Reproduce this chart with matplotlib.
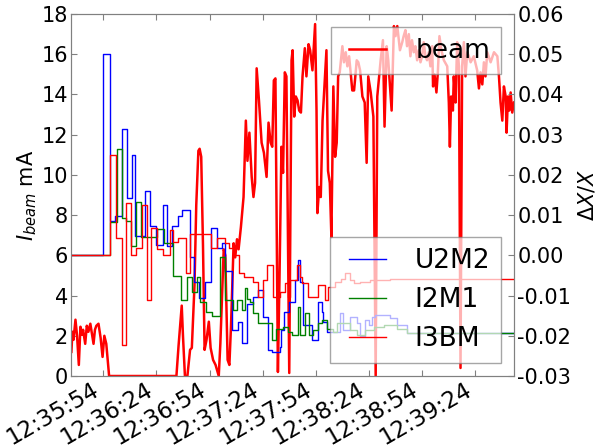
import numpy as np
import pandas as pd
import matplotlib
matplotlib.use("Agg")
import matplotlib.pyplot as plt
import matplotlib.dates as mdates
from matplotlib.ticker import MultipleLocator, FormatStrFormatter

start = pd.Timestamp("2016-01-01 12:35:36")

# beam current (mA), seconds after start
beam_t = [0, 0.6, 1.2, 2.3, 3.2, 4.2, 5.1, 5.9, 6.6, 7.8,
          8.7, 9.6, 10.7, 11.6, 12.5, 13.3, 14.1, 15.3, 16.5, 17.6,
          18.6, 19.7, 21.3, 59.3, 60.5, 62.3, 63.0, 64.1, 65.5, 67.0,
          68.0, 69.5, 70.5, 71.7, 72.4, 73.3, 74.3, 75.2, 76.3, 77.6,
          78.6, 80.0, 81.4, 83.2, 84.1, 86.0, 86.9, 88.2, 89.2, 90.1,
          91.6, 92.5, 93.5, 94.4, 95.7, 97.2, 98.5, 99.4, 100.5, 101.8,
          102.8, 103.7, 104.6, 105.9, 107.4, 108.7, 110.2, 111.3, 112.5, 113.4,
          114.3, 115.2, 116.6, 117.5, 118.6, 119.5, 120.5, 121.4, 123.0, 124.3,
          124.9, 125.8, 126.7, 127.7, 128.6, 129.6, 130.5, 131.8, 132.7, 133.9,
          134.8, 136.1, 137.6, 138.4, 138.9, 139.9, 140.8, 141.8, 144.0, 144.9,
          145.9, 146.8, 147.9, 148.9, 149.8, 150.6, 151.5, 153.0, 153.9, 154.9,
          155.8, 156.8, 158.6, 159.6, 161.1, 162.0, 163.0, 164.3, 165.6, 166.7,
          167.6, 169.0, 170.5, 171.8, 172.7, 174.6, 175.9, 176.8, 178.0, 178.9,
          180.8, 182.1, 183.0, 184.0, 185.5, 186.8, 187.6, 188.6, 189.5, 190.5,
          191.4, 192.3, 193.3, 194.2, 195.2, 196.1, 197.1, 198.0, 198.9, 199.9,
          200.8, 201.8, 202.7, 203.7, 204.2, 205.0, 206.1, 206.9, 207.8, 208.9,
          210.3, 212.2, 213.1, 213.7, 214.4, 215.4, 215.9, 216.9, 217.8, 218.8,
          219.7, 220.6, 221.6, 222.5, 223.5, 224.4, 225.4, 227.2, 229.1, 230.1,
          231.0, 232.0, 232.9, 233.8, 234.8, 236.7, 238.6, 240.5, 241.4, 242.3,
          243.3, 244.2, 245.2, 245.7, 246.5, 247.2, 248.0, 248.9, 249.9]
beam_mA = [1.2, 2.2, 1.8, 2.8, 2.0, 0.55, 2.45, 2.05, 2.3, 1.6,
           2.5, 2.2, 2.6, 2.1, 1.6, 2.3, 2.5, 2.6, 1.9, 0.95,
           2.0, 1.6, 0.0, 0.0, 1.5, 3.5, 2.0, 0.0, 0.0, 1.3,
           1.4, 4.5, 8.5, 11.2, 11.3, 10.9, 6.5, 1.3, 1.8, 2.7,
           1.4, 0.8, 0.55, 0.0, 1.6, 6.3, 6.0, 0.8, 0.55, 2.45,
           6.6, 5.9, 6.8, 6.3, 7.4, 8.9, 12.7, 10.7, 12.1, 9.9,
           8.9, 9.6, 15.3, 13.7, 11.6, 11.1, 9.9, 12.6, 11.6, 11.4,
           14.7, 14.8, 0.2, 4.9, 11.4, 10.1, 15.1, 14.9, 0.15, 15.7,
           16.2, 12.9, 13.9, 13.7, 13.2, 13.1, 14.9, 16.3, 14.9, 16.5,
           16.2, 15.2, 17.5, 13.2, 8.1, 9.4, 8.9, 12.7, 16.2, 10.2,
           9.6, 6.9, 14.4, 10.9, 11.6, 14.9, 15.1, 16.4, 15.6, 16.1,
           15.4, 15.9, 14.2, 14.2, 15.7, 15.6, 15.2, 13.9, 13.6, 10.6,
           14.9, 14.1, 12.9, 0.0, 13.9, 15.7, 16.7, 12.4, 16.4, 15.7,
           13.2, 17.4, 16.9, 17.4, 16.2, 16.6, 16.9, 17.2, 16.4, 17.0,
           15.9, 16.7, 16.1, 16.4, 15.7, 16.2, 15.6, 15.9, 16.6, 15.9,
           15.7, 16.1, 15.4, 16.4, 14.4, 15.0, 14.1, 15.1, 16.9, 16.2,
           15.7, 15.4, 13.6, 11.4, 13.9, 13.2, 14.9, 13.6, 16.6, 15.4,
           0.4, 15.4, 16.6, 14.9, 16.1, 15.9, 15.6, 15.9, 15.2, 14.3,
           15.1, 14.5, 15.6, 14.9, 16.1, 15.6, 16.1, 15.9, 14.9, 13.6,
           12.7, 14.4, 13.9, 12.1, 13.9, 13.2, 14.1, 13.1, 13.6]

# relative changes dX/X (value held until next change)
u2m2_t = [0, 18.0, 21.7, 24.5, 28.3, 31.2, 34.5, 36.0, 41.7, 44.5,
          47.5, 51.6, 54.0, 57.0, 60.0, 62.5, 67.0, 69.0, 72.0, 75.5,
          78.8, 82.0, 84.8, 87.0, 90.5, 94.2, 96.5, 99.0, 102.7, 105.5,
          108.3, 111.2, 113.1, 117.7, 118.6, 120.0, 122.6, 126.2, 128.2, 129.0,
          130.9, 135.6, 139.4, 141.3, 142.2, 144.1, 151.7, 153.6, 157.4, 161.2,
          163.1, 165.9, 167.8, 169.7, 171.6, 180.1, 183.8, 189.4]
u2m2 = [0.0, 0.05, 0.0085, 0.0098, 0.0315, 0.0142, 0.025, 0.0049, 0.0159, 0.0072,
        0.0025, 0.0125, 0.0022, 0.0073, 0.0098, 0.0112, -0.0003, -0.0066, -0.0105, -0.0066,
        0.0068, 0.0018, 0.003, -0.004, -0.0185, -0.0165, -0.0219, -0.012, -0.0103, -0.0086,
        -0.0153, -0.0236, -0.024, -0.0227, -0.0186, -0.014, -0.0116, -0.0062, -0.0012, -0.0066,
        -0.0173, -0.0211, -0.0116, -0.014, -0.0165, -0.019, -0.0144, -0.0186, -0.0153, -0.0169,
        -0.02, -0.0161, -0.0173, -0.0153, -0.0148, -0.0157, -0.0173, -0.0194]

i2m1_t = [0, 21.7, 25.6, 28.5, 30.6, 33.9, 36.5, 39.4, 48.5, 52.5,
          57.5, 62.0, 65.0, 68.3, 71.0, 72.6, 76.0, 79.2, 84.0, 86.7,
          91.0, 93.5, 96.5, 98.0, 99.3, 100.8, 102.7, 105.5, 113.1, 115.5,
          119.6, 122.4, 124.3, 128.1, 129.0, 131.8, 134.3, 136.5, 139.4, 141.3,
          144.1, 147.9, 149.8, 157.4, 161.2, 165.9, 170.7, 176.3, 183.8, 189.4]
i2m1 = [0.0, 0.0084, 0.0264, 0.0092, 0.0085, 0.0022, 0.0132, 0.0045, 0.0065, 0.003,
        -0.0052, -0.0111, -0.0053, -0.009, -0.0055, -0.0115, -0.014, -0.015, -0.0005, -0.011,
        -0.0135, -0.011, -0.0135, -0.008, -0.0108, -0.0116, -0.0144, -0.0169, -0.0211, -0.0182,
        -0.0178, -0.019, -0.0198, -0.0128, -0.0198, -0.0144, -0.0198, -0.0186, -0.0169, -0.0161,
        -0.0182, -0.019, -0.0169, -0.0186, -0.0198, -0.0186, -0.0178, -0.0173, -0.0182, -0.0194]

i3bm_t = [0, 21.7, 25.2, 28.4, 30.8, 33.5, 36.5, 39.6, 42.5, 45.0,
          48.2, 51.7, 55.4, 57.3, 60.0, 64.6, 67.2, 79.0, 82.0, 86.5,
          89.0, 92.0, 94.4, 97.2, 102.7, 105.5, 108.3, 110.2, 114.0, 117.7,
          120.6, 122.4, 123.4, 127.1, 129.0, 130.0, 133.7, 139.4, 143.2, 145.1,
          148.9, 152.5, 154.6, 157.4, 159.3, 163.1, 168.8, 180.1]
i3bm = [0.0, 0.025, 0.0043, -0.0223, 0.013, 0.0, 0.0018, 0.0125, -0.0111, 0.0068,
        0.0015, 0.0, 0.0063, 0.0032, 0.0043, -0.0043, 0.0053, 0.0018, 0.0043, 0.003,
        0.0018, 0.0, -0.0045, -0.0053, -0.0066, -0.0103, -0.0062, -0.0024, -0.0103, -0.009,
        -0.007, -0.0103, -0.0062, -0.0024, -0.0053, -0.007, -0.0103, -0.0074, -0.0111, -0.0078,
        -0.0066, -0.0058, -0.0045, -0.0062, -0.007, -0.0066, -0.0062, -0.006]

end_t = beam_t[-1]


def to_time(sec):
    return start + pd.to_timedelta(np.asarray(sec, dtype=float), unit="s")


def held(ts, vs):
    return to_time(list(ts) + [end_t]), list(vs) + [vs[-1]]


FS = 15
FSX = 16.5
GRAY = "0.5"

fig = plt.figure(figsize=(6.05, 4.48), dpi=100)
ax1 = fig.add_axes([0.118, 0.1607, 0.7316, 0.808])
ax2 = ax1.twinx()

ax1.plot(to_time(beam_t), beam_mA, color="#ff0000", lw=1.8, label="beam")

for ts, vs, col, name in [(u2m2_t, u2m2, "#0000ff", "U2M2"),
                          (i2m1_t, i2m1, "#008000", "I2M1"),
                          (i3bm_t, i3bm, "#ff0000", "I3BM")]:
    x, y = held(ts, vs)
    ax2.plot(x, y, color=col, lw=1.0, drawstyle="steps-post", label=name)

ax1.set_xlim(to_time([0])[0], to_time([end_t])[0])
ax1.set_ylim(0, 18)
ax2.set_ylim(-0.03, 0.06)
ax1.yaxis.set_major_locator(MultipleLocator(2))
ax2.yaxis.set_major_locator(MultipleLocator(0.01))
ax2.yaxis.set_major_formatter(FormatStrFormatter("%.2f"))

ax1.xaxis.set_major_locator(mdates.SecondLocator(bysecond=[24, 54]))
ax1.xaxis.set_major_formatter(mdates.DateFormatter("%H:%M:%S"))

for ax in (ax1, ax2):
    for sp in ax.spines.values():
        sp.set_edgecolor(GRAY)
    ax.tick_params(direction="in", color=GRAY, labelcolor="k", length=4,
                   pad=2.5, labelsize=FS)
ax1.tick_params(axis="x", labelsize=FSX, pad=1.5)
ax1.tick_params(top=True, right=False)
for lab in ax1.get_xticklabels():
    lab.set_rotation(30)
    lab.set_ha("right")

ax1.set_ylabel(r"$I_{beam}$ mA", fontsize=FS, labelpad=2)
ax2.set_ylabel(r"$\Delta X/X$", fontsize=FS, labelpad=4)

legkw = dict(fontsize=19, numpoints=2, framealpha=0.7, fancybox=False,
             edgecolor=GRAY)
leg1 = ax1.legend(loc="upper right", **legkw)
leg2 = ax2.legend(loc="lower right", **legkw)
for lg in (leg1, leg2):
    lg.get_frame().set_linewidth(1.0)

fig.savefig("out.png", dpi=100)
